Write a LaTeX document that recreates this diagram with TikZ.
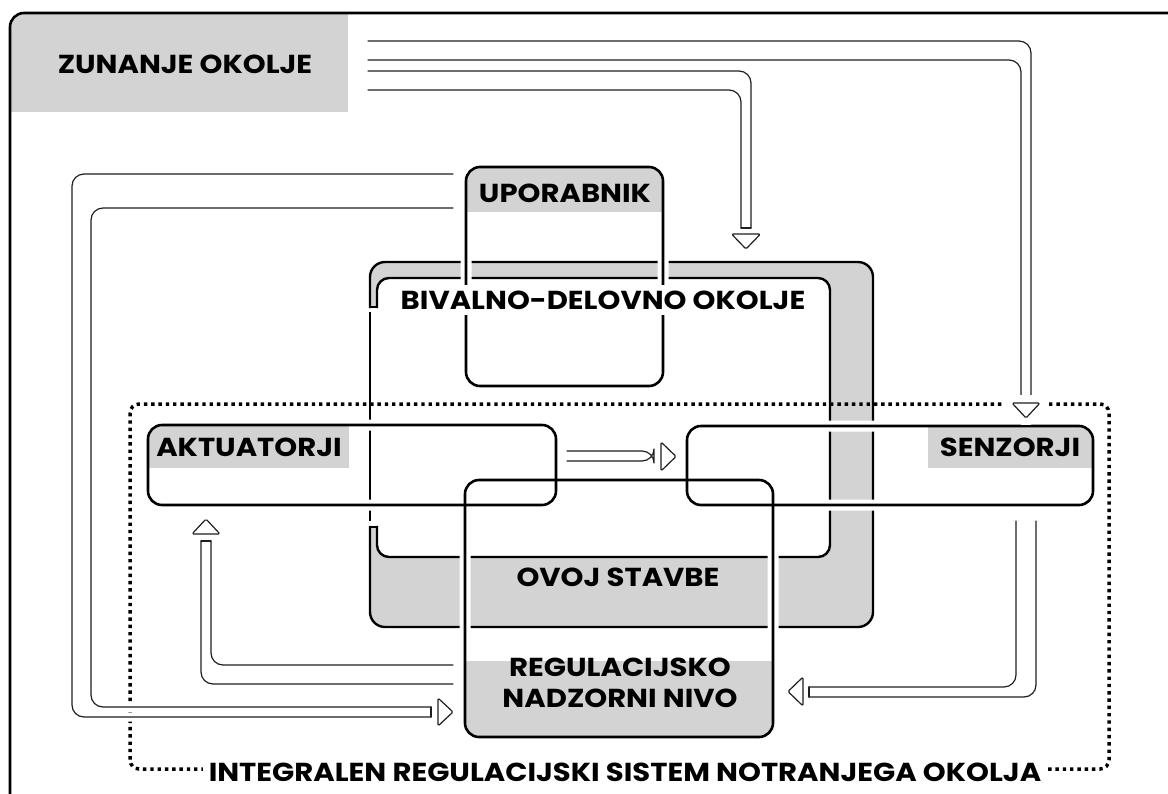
\documentclass[tikz,border=0pt]{standalone}
\usepackage{fontspec}
\setmainfont{Poppins}[FakeStretch=1.12]
\usetikzlibrary{positioning}
\definecolor{wallgray}{RGB}{211,211,211}
\definecolor{ink}{RGB}{30,30,30}
\tikzset{
  frame/.style={draw=black,line width=2.6pt,rounded corners=14pt},
  wall/.style={draw=black,line width=2.4pt,line cap=rect},
  box/.style={draw=black,line width=2.6pt,rounded corners=14pt},
  halo/.style={draw=white,line width=11pt,rounded corners=14pt},
  pipe/.style={draw=ink,line width=1.2pt,rounded corners=12pt,line cap=round,line join=round},
  pipe halo/.style={pipe,preaction={draw=white,line width=9pt}},
  head/.style={draw=ink,line width=1.2pt,fill=white,rounded corners=1.5pt,line join=round},
  head halo/.style={head,preaction={draw=white,line width=16pt}},
  heading/.style={font=\fontsize{26}{31}\selectfont\bfseries,inner sep=0pt,
    text height=18pt,text depth=0pt,align=center},
  fence/.style={draw=black,line width=3.5pt,dash pattern=on 3.4pt off 3.9pt,rounded corners=9pt},
}
\begin{document}
\begin{tikzpicture}[x=1pt,y=-1pt]
  \useasboundingbox (0,0) rectangle (1168,793);
  \clip (0,0) rectangle (1168,793);
  % outer environment
  \begin{scope}
    \clip[rounded corners=14pt] (10,13) rectangle (1200,830);
    \fill[wallgray] (0,0) rectangle (348,112);
  \end{scope}
  \draw[frame] (10,13) rectangle (1200,830);
  \node[heading] (zun) at (185,64) {ZUNANJE OKOLJE};
  % building envelope, open on the left
  \fill[wallgray,rounded corners=15pt] (370,262) rectangle (873,627);
  \fill[white,rounded corners=12pt] (377,278) rectangle (830,557);
  \fill[white] (366,307) rectangle (378.5,527);
  \draw[wall,rounded corners=15pt] (370,307) -- (370,262) -- (873,262) -- (873,627) -- (370,627) -- (370,527);
  \draw[wall,rounded corners=12pt] (377,527) -- (377,557) -- (830,557) -- (830,278) -- (377,278) -- (377,307);
  \draw[wall] (370,307) -- (377,307) (370,527) -- (377,527) (370,313) -- (370,520);
  % boxes
  \coordinate (upo-nw) at (466,167); \coordinate (upo-se) at (663,386);
  \coordinate (akt-nw) at (148,425); \coordinate (akt-se) at (556,505);
  \coordinate (sen-nw) at (687,426); \coordinate (sen-se) at (1093,505);
  \coordinate (reg-nw) at (465,480); \coordinate (reg-se) at (773,737);
  \foreach \b in {upo,akt,sen,reg}
    \draw[halo] (\b-nw) rectangle (\b-se);
  \foreach \b/\x/\y/\u/\v in {upo/466/167/663/212,akt/148/425/349/468,sen/928/426/1093/468,reg/465/661/773/737}{
    \begin{scope}
      \clip[rounded corners=14pt] (\b-nw) rectangle (\b-se);
      \fill[wallgray] (\x,\y) rectangle (\u,\v);
    \end{scope}
  }
  \foreach \b in {upo,akt,sen,reg}
    \draw[box] (\b-nw) rectangle (\b-se);
  \node[heading] (upo) at (565,193) {UPORABNIK};
  \node[heading,fill=white,inner xsep=4pt,inner ysep=6pt] (bdo) at (603,300) {BIVALNO-DELOVNO OKOLJE};
  \node[heading] (akt) at (249,447) {AKTUATORJI};
  \node[heading] (sen) at (1010,447) {SENZORJI};
  \node[heading] (ovoj) at (618,577) {OVOJ STAVBE};
  \node[heading] (reg) at (620,698.5) {REGULACIJSKO\\NADZORNI NIVO};
  % integral regulation system
  \draw[fence] (130,404) rectangle (1109,769);
  \node[heading,fill=white,inner xsep=6pt,inner ysep=4pt] (irs) at (625,772) {INTEGRALEN REGULACIJSKI SISTEM NOTRANJEGA OKOLJA};
  % flows
  \coordinate (h1) at (1026,418);
  \coordinate (h2) at (746,249);
  \coordinate (h3) at (453,712);
  \coordinate (h4) at (206,519);
  \coordinate (h5) at (788,691.5);
  \coordinate (h6) at (676,456.5);
  \draw[pipe] (368,41) -| (1031,396);
  \draw[pipe] (368,60) -| (1021,396);
  \draw[pipe,sharp corners] (1021,396) -- (1031,396);
  \draw[pipe] (368,71) -| (751,228);
  \draw[pipe] (368,90) -| (741,228);
  \draw[pipe,sharp corners] (741,228) -- (751,228);
  \draw[pipe halo] (453,174) -| (72,717) -- (431,717);
  \draw[pipe halo] (453,208) -| (91,707) -- (431,707);
  \draw[pipe,sharp corners] (431,707) -- (431,717);
  \draw[pipe] (453,684) -| (201,541);
  \draw[pipe] (453,665) -| (211,541);
  \draw[pipe,sharp corners] (201,541) -- (211,541);
  \draw[pipe] (1036,521) |- (809,697);
  \draw[pipe] (1016,521) |- (809,687);
  \draw[pipe,sharp corners] (809,687) -- (809,697);
  \draw[pipe] (567,451) -- (654,451) -- (654,461) -- (567,461);
  \draw[head halo] (h1) -- ++(14,-15) -- ++(-28,0) -- cycle;
  \draw[head] (h2) -- ++(14.5,-15) -- ++(-29,0) -- cycle;
  \draw[head] (h3) -- ++(-15,14) -- ++(0,-28) -- cycle;
  \draw[head] (h4) -- ++(14,15) -- ++(-28,0) -- cycle;
  \draw[head] (h5) -- ++(15,14.5) -- ++(0,-29) -- cycle;
  \draw[head] (h6) -- ++(-15,14.5) -- ++(0,-29) -- cycle;
\end{tikzpicture}
\end{document}
